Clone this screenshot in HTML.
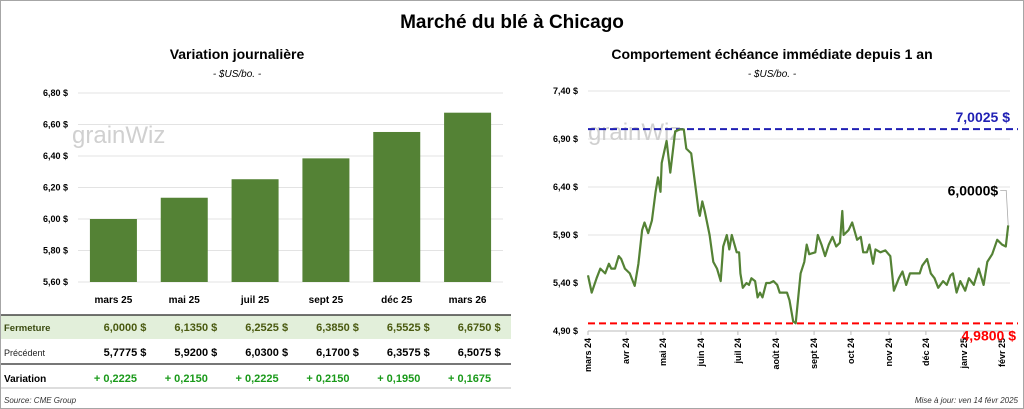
<!DOCTYPE html>
<html><head><meta charset="utf-8"><style>
body{margin:0;width:1024px;height:409px;background:#fff;font-family:"Liberation Sans",sans-serif;overflow:hidden}
svg{display:block}
</style></head><body>
<svg id="c" width="1024" height="409" xmlns="http://www.w3.org/2000/svg">
<rect x="0.5" y="0.5" width="1023" height="408" fill="#fff" stroke="#a6a6a6"/>
<text x="512" y="28" text-anchor="middle" font-size="19" font-weight="bold" fill="#000">Marché du blé à Chicago</text>
<text x="237" y="59" text-anchor="middle" font-size="14" font-weight="bold">Variation  journalière</text>
<text x="237" y="77" text-anchor="middle" font-size="10" font-style="italic">- $US/bo. -</text>
<text x="772" y="59" text-anchor="middle" font-size="14" font-weight="bold">Comportement échéance immédiate depuis 1 an</text>
<text x="772" y="77" text-anchor="middle" font-size="10" font-style="italic">- $US/bo. -</text>
<g id="left"></g>
<g id="right"></g>
<text x="4" y="403" font-size="8" font-style="italic" fill="#333">Source: CME Group</text>
<text x="1018" y="403" text-anchor="end" font-size="8" font-style="italic" fill="#333">Mise à jour: ven 14 févr 2025</text>
</svg>
<script>
const categories=["mars 25","mai 25","juil 25","sept 25","déc 25","mars 26"];
const closeVals=[6.0000,6.1350,6.2525,6.3850,6.5525,6.6750];
const prevVals=[5.7775,5.9200,6.0300,6.1700,6.3575,6.5075];
const yTicksL=[5.60,5.80,6.00,6.20,6.40,6.60,6.80];
const monthLabels=["mars 24","avr 24","mai 24","juin 24","juil 24","août 24","sept 24","oct 24","nov 24","déc 24","janv 25","févr 25"];
const monthDays=[0,31,61,92,122,153,184,214,245,275,306,337];
const seriesDays=[0,3,7,10,14,17,19,22,25,27,30,34,38,41,44,46,49,52,55,57,59,60,64,67,71,75,78,80,84,87,90,91,93,95,99,102,105,108,110,113,115,117,121,123,124,126,129,131,133,136,138,140,142,145,148,151,154,156,162,164,167,169,173,176,178,180,185,187,190,193,196,199,202,205,207,208,212,215,219,222,224,227,229,232,234,238,242,246,249,253,256,259,262,266,270,272,276,279,282,285,289,292,295,297,300,303,307,310,314,318,322,325,329,333,337,340,342];
const seriesVals=[5.48,5.30,5.45,5.55,5.50,5.60,5.55,5.55,5.68,5.65,5.55,5.50,5.37,5.60,5.95,6.03,5.92,6.05,6.35,6.50,6.35,6.65,6.88,6.55,6.98,7.00,7.00,6.80,6.75,6.45,6.15,6.10,6.25,6.15,5.90,5.62,5.55,5.42,5.78,5.90,5.75,5.90,5.72,5.72,5.50,5.35,5.40,5.38,5.45,5.42,5.25,5.30,5.25,5.40,5.40,5.42,5.38,5.30,5.30,5.22,5.00,4.98,5.50,5.62,5.80,5.70,5.72,5.90,5.80,5.68,5.80,5.88,5.78,5.82,6.15,5.90,5.95,6.03,5.85,5.88,5.72,5.72,5.80,5.60,5.75,5.72,5.74,5.68,5.32,5.45,5.52,5.38,5.50,5.50,5.50,5.58,5.65,5.50,5.45,5.35,5.42,5.38,5.48,5.50,5.30,5.42,5.32,5.45,5.38,5.55,5.38,5.62,5.70,5.85,5.80,5.78,6.00];
const yTicksR=[4.90,5.40,5.90,6.40,6.90,7.40];
const maxVal=7.0025, minVal=4.9800, lastVal=6.0000;

const NS="http://www.w3.org/2000/svg";
function mk(p,t,a,txt){const e=document.createElementNS(NS,t);for(const k in a)e.setAttribute(k,a[k]);if(txt!==undefined)e.textContent=txt;p.appendChild(e);return e;}
const fmt2=v=>v.toFixed(2).replace('.',',')+' $';
const fmt4=v=>v.toFixed(4).replace('.',',');

// left chart
const L=document.getElementById('left');
const lx0=78,lx1=503,yL=v=>282-(v-5.6)/1.2*189;
const slot=(lx1-lx0)/categories.length;
yTicksL.forEach(t=>{
 const g=mk(L,'line',{x1:lx0,x2:lx1,y1:yL(t),y2:yL(t),stroke:'#e3e3e3'});
 
 
 const tx=mk(L,'text',{x:68,y:yL(t)+3,'text-anchor':'end','font-size':9,'font-weight':'bold'},fmt2(t));
 
 
});
mk(L,'text',{x:72,y:143,'font-size':24,fill:'#d0d0d0'},'grainWiz');
categories.forEach((c,i)=>{
 const cx=lx0+slot*(i+0.5);
 const b=mk(L,'rect',{x:cx-23.5,y:yL(closeVals[i]),width:47,height:282-yL(closeVals[i]),fill:'#548235'});
 
 
 const t=mk(L,'text',{x:cx,y:303,'text-anchor':'middle','font-size':10,'font-weight':'bold'},c);
 
 
});
// table
const bg=mk(L,'rect',{x:1,y:315,width:510,height:24,fill:'#e2efda'});


mk(L,'line',{x1:1,x2:511,y1:315,y2:315,stroke:'#222',"stroke-width":1.2});
mk(L,'line',{x1:1,x2:511,y1:364,y2:364,stroke:'#777',"stroke-width":2});
mk(L,'line',{x1:1,x2:511,y1:388,y2:388,stroke:'#bbb',"stroke-width":1});
mk(L,'text',{x:4,y:331,'font-size':9.5,'font-weight':'bold',fill:'#3a4a10'},'Fermeture');
mk(L,'text',{x:4,y:356,'font-size':9,fill:'#222'},'Précédent');
mk(L,'text',{x:4,y:382,'font-size':10,'font-weight':'bold'},'Variation');
categories.forEach((c,i)=>{
 const cx=lx0+slot*(i+0.5);
 const a=mk(L,'text',{x:cx+33,y:331,'text-anchor':'end','font-size':11,'font-weight':'bold',fill:'#4a5a10','xml:space':'preserve'},fmt4(closeVals[i])+'  $');
 
 
 const p=mk(L,'text',{x:cx+33,y:356,'text-anchor':'end','font-size':11,'font-weight':'bold','xml:space':'preserve'},fmt4(prevVals[i])+'  $');
 
 
 const d=closeVals[i]-prevVals[i];
 const v=mk(L,'text',{x:cx+2,y:382,'text-anchor':'middle','font-size':11,'font-weight':'bold',fill:'#1a9a1a'},(d>=0?'+ ':'- ')+fmt4(Math.abs(d)));
 
 
});

// right chart
const R=document.getElementById('right');
const rx0=588,rx1=1010,yR=v=>331-(v-4.9)/2.5*240,xR=d=>588+d*1.2287;
yTicksR.forEach(t=>{
 const g=mk(R,'line',{x1:rx0,x2:rx1,y1:yR(t),y2:yR(t),stroke:'#e3e3e3'});
 
 
 const tx=mk(R,'text',{x:578,y:yR(t)+3,'text-anchor':'end','font-size':9,'font-weight':'bold'},fmt2(t));
 
 
});
mk(R,'line',{x1:rx0,x2:rx1,y1:331,y2:331,stroke:'#bbb'});
mk(R,'text',{x:588,y:140,'font-size':24,fill:'#d0d0d0'},'grainWiz');
monthLabels.forEach((m,i)=>{
 const x=xR(monthDays[i]);
 mk(R,'line',{x1:x,x2:x,y1:331,y2:335,stroke:'#bbb'});
 const t=mk(R,'text',{x:x+3,y:338,'text-anchor':'end','font-size':9,'font-weight':'bold',transform:`rotate(-90 ${x+3} 338)`},m);
 
 
});
const hi=mk(R,'line',{x1:rx0,x2:rx1+8,y1:yR(maxVal),y2:yR(maxVal),stroke:'#1f1fb4','stroke-width':2,'stroke-dasharray':'7,4'});


mk(R,'text',{x:1010,y:yR(maxVal)-7,'text-anchor':'end','font-size':14,'font-weight':'bold',fill:'#1f1fb4'},fmt4(maxVal)+' $');
const lo=mk(R,'line',{x1:rx0,x2:rx1+8,y1:yR(minVal),y2:yR(minVal),stroke:'#f00','stroke-width':2,'stroke-dasharray':'7,4'});


mk(R,'text',{x:1016,y:yR(minVal)+17,'text-anchor':'end','font-size':14,'font-weight':'bold',fill:'#f00'},fmt4(minVal)+' $');
const pts=seriesDays.map((d,i)=>xR(d).toFixed(1)+','+yR(seriesVals[i]).toFixed(1)).join(' ');
const pl=mk(R,'polyline',{points:pts,fill:'none',stroke:'#548235','stroke-width':2.2,'stroke-linejoin':'round'});


const lxl=xR(seriesDays[seriesDays.length-1]);
mk(R,'polyline',{points:`${lxl},${yR(lastVal)} ${lxl-2},${yR(lastVal)-35} ${lxl-8},${yR(lastVal)-35}`,fill:'none',stroke:'#aaa','stroke-width':0.8});
mk(R,'text',{x:lxl-10,y:yR(lastVal)-30,'text-anchor':'end','font-size':14,'font-weight':'bold'},fmt4(lastVal)+'$');
</script>
</body></html>
